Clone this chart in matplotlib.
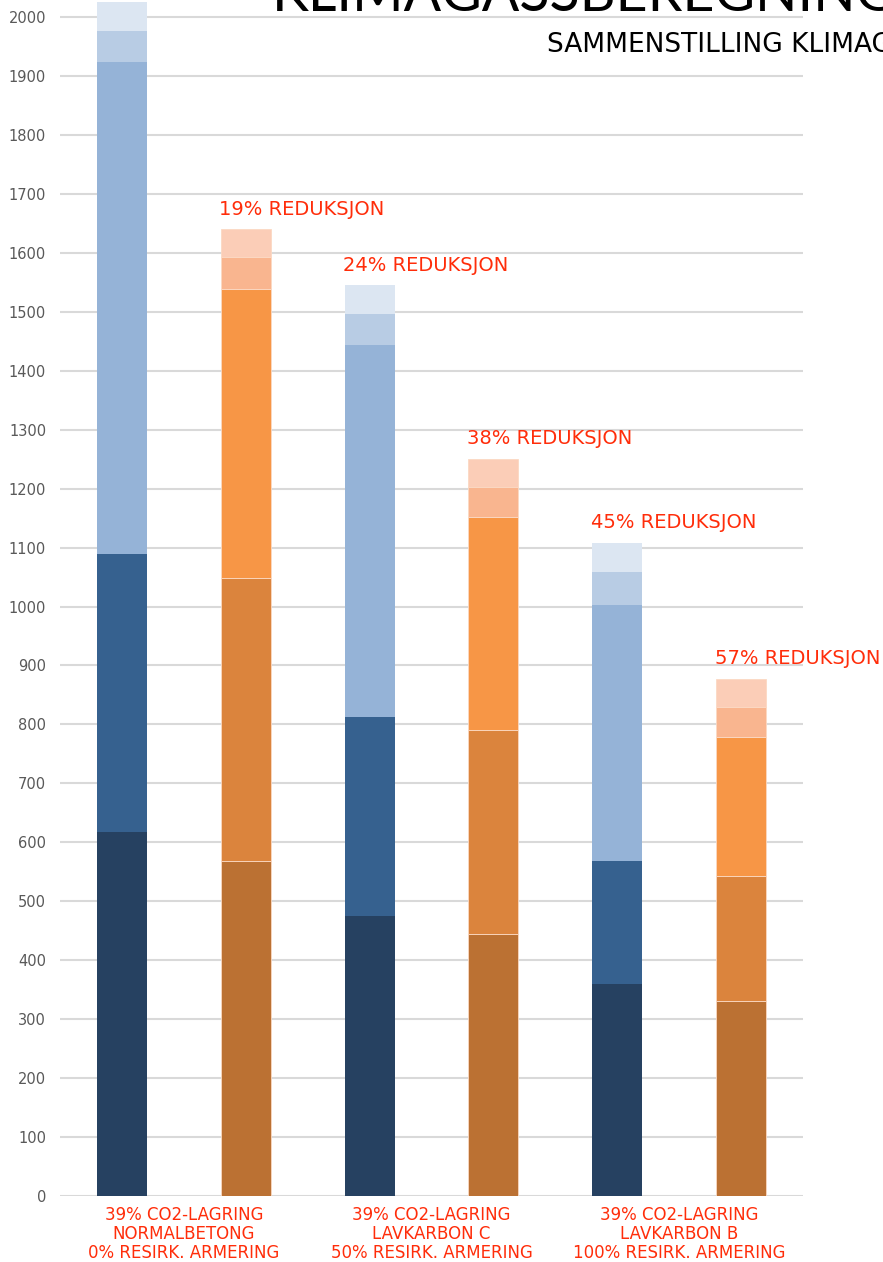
import matplotlib.pyplot as plt
import numpy as np

# stacked segment values (cumulative tops)
tops = [
    [617, 1089, 1924, 1976, 2025],
    [568, 1048, 1539, 1593, 1640],
    [475, 813, 1444, 1496, 1545],
    [444, 790, 1152, 1203, 1250],
    [360, 568, 1003, 1059, 1108],
    [331, 543, 779, 830, 877],
]
reductions = [None, "19% REDUKSJON", "24% REDUKSJON", "38% REDUKSJON",
              "45% REDUKSJON", "57% REDUKSJON"]
group_labels = [
    "39% CO2-LAGRING\nNORMALBETONG\n0% RESIRK. ARMERING",
    "39% CO2-LAGRING\nLAVKARBON C\n50% RESIRK. ARMERING",
    "39% CO2-LAGRING\nLAVKARBON B\n100% RESIRK. ARMERING",
]

blues = ["#264161", "#36618F", "#95B3D7", "#B8CCE4", "#DCE6F2"]
oranges = ["#BB7133", "#DB843D", "#F79646", "#F9B58F", "#FBCDB7"]
red = "#FF2D0A"
fam = ["DejaVu Sans"]

fig = plt.figure(figsize=(8.83, 12.62), dpi=100)
ax = fig.add_axes([60 / 883, 66 / 1262, 743 / 883, 1196 / 1262])

x = np.arange(len(tops))
width = 0.405
for i, t in enumerate(tops):
    cols = blues if i % 2 == 0 else oranges
    edge = "none" if i % 2 == 0 else "#FBD9C3"
    bottom = 0
    for k, top in enumerate(t):
        ax.bar(x[i], top - bottom, width, bottom=bottom, color=cols[k],
               edgecolor=edge, linewidth=0.6, zorder=3)
        bottom = top
    if reductions[i]:
        ax.text(x[i] - width / 2 - 0.01, t[-1] + 25, reductions[i],
                color=red, fontsize=14, family=fam, ha="left", va="baseline")

ax.set_xlim(-0.5, 5.5)
ax.set_ylim(0, 2029)
ax.set_yticks(np.arange(0, 2001, 100))
ax.grid(axis="y", color="#D9D9D9", linewidth=1.5, zorder=0)
ax.set_axisbelow(True)
for s in ax.spines.values():
    s.set_visible(False)
ax.tick_params(axis="y", length=0, pad=10, labelcolor="#595959", labelsize=10.5)
ax.set_xticks([])

for g, lab in enumerate(group_labels):
    ax.text(2 * g + 0.5, -17, lab, color=red, fontsize=12, family=fam,
            ha="center", va="top", linespacing=1.08)

# title sits mostly above the visible canvas, as in the original crop
fig.text(272 / 883, 1 - 11 / 1262, "KLIMAGASSBEREGNING", fontsize=40,
         family=["Lato", "DejaVu Sans"], fontweight="normal",
         ha="left", va="baseline", color="black")
fig.text(547 / 883, 1 - 52 / 1262, "SAMMENSTILLING KLIMAGASSUTSLIPP",
         fontsize=19, family=fam, ha="left", va="baseline", color="black")

fig.savefig("out.png", dpi=100)
